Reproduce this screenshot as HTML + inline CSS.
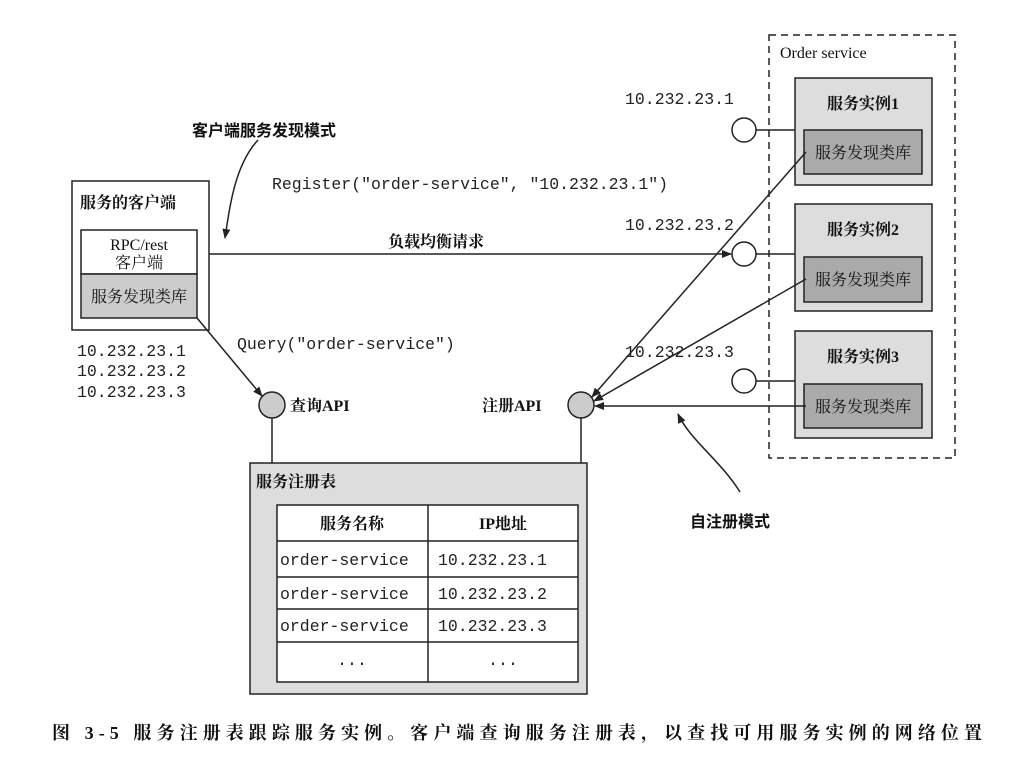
<!DOCTYPE html>
<html><head><meta charset="utf-8"><style>
html,body{margin:0;padding:0;background:#fff;}
svg{display:block;}
.m{font-family:"Liberation Mono","DejaVu Sans Mono",monospace;font-size:16.5px;fill:#222;}
.c{font-family:"Liberation Serif","Noto Serif CJK SC",serif;font-size:16px;fill:#111;}
.b{font-family:"Liberation Sans","Noto Sans CJK SC",sans-serif;font-size:16px;font-weight:bold;fill:#111;}
</style></head><body>
<svg width="1036" height="759" viewBox="0 0 1036 759" xmlns="http://www.w3.org/2000/svg">
<defs><marker id="a" markerWidth="10" markerHeight="8" refX="9" refY="4" orient="auto" markerUnits="userSpaceOnUse"><path d="M0,0 L10,4 L0,8 z" fill="#222"/></marker></defs>
<g stroke="#222" stroke-width="1.5" fill="none">
<!-- client -->
<rect x="72" y="181" width="137" height="149" fill="#fff"/>
<rect x="81" y="230" width="116" height="44" fill="#fff"/>
<rect x="81" y="274" width="116" height="44" fill="#ccc"/>
<!-- order service -->
<rect x="769" y="35" width="186" height="423" stroke-dasharray="7,5"/>
<rect x="795" y="78" width="137" height="107" fill="#ddd"/>
<rect x="804" y="130" width="118" height="44" fill="#aaa"/>
<rect x="795" y="204" width="137" height="107" fill="#ddd"/>
<rect x="804" y="257" width="118" height="45" fill="#aaa"/>
<rect x="795" y="331" width="137" height="107" fill="#ddd"/>
<rect x="804" y="384" width="118" height="44" fill="#aaa"/>
<line x1="756" y1="130" x2="795" y2="130"/>
<line x1="756" y1="254" x2="795" y2="254"/>
<line x1="756" y1="381" x2="795" y2="381"/>
<circle cx="744" cy="130" r="12" fill="#fff"/>
<circle cx="744" cy="254" r="12" fill="#fff"/>
<circle cx="744" cy="381" r="12" fill="#fff"/>
<!-- registry -->
<line x1="272" y1="418" x2="272" y2="463"/>
<line x1="581" y1="418" x2="581" y2="463"/>
<rect x="250" y="463" width="337" height="231" fill="#ddd"/>
<rect x="277" y="505" width="301" height="177" fill="#fff"/>
<line x1="428" y1="505" x2="428" y2="682"/>
<line x1="277" y1="541" x2="578" y2="541"/>
<line x1="277" y1="577" x2="578" y2="577"/>
<line x1="277" y1="609" x2="578" y2="609"/>
<line x1="277" y1="642" x2="578" y2="642"/>
<circle cx="272" cy="405" r="13" fill="#ccc"/>
<circle cx="581" cy="405" r="13" fill="#ccc"/>
<!-- arrows -->
<line x1="209" y1="254" x2="731" y2="254" marker-end="url(#a)"/>
<line x1="197" y1="318" x2="262" y2="396" marker-end="url(#a)"/>
<line x1="806" y1="152" x2="592" y2="397" marker-end="url(#a)"/>
<line x1="806" y1="279" x2="594" y2="401" marker-end="url(#a)"/>
<line x1="806" y1="406" x2="595" y2="406" marker-end="url(#a)"/>
<path d="M258,140 C235,165 230,205 225,238" marker-end="url(#a)"/>
<path d="M740,492 C720,460 690,440 678,414" marker-end="url(#a)"/>
</g>
<text class="b" x="192" y="136">客户端服务发现模式</text>
<text class="c" x="80" y="208" font-weight="bold">服务的客户端</text>
<text class="c" x="139" y="250" text-anchor="middle">RPC/rest</text>
<text class="c" x="139" y="268" text-anchor="middle">客户端</text>
<text class="c" x="139" y="302" text-anchor="middle">服务发现类库</text>
<text class="m" x="272" y="189">Register("order-service", "10.232.23.1")</text>
<text class="c" x="388" y="247" font-weight="bold">负载均衡请求</text>
<text class="m" x="237" y="349">Query("order-service")</text>
<text class="m" x="77" y="356">10.232.23.1</text>
<text class="m" x="77" y="376">10.232.23.2</text>
<text class="m" x="77" y="397">10.232.23.3</text>
<text class="c" x="290" y="411" font-weight="bold">查询API</text>
<text class="c" x="482" y="411" font-weight="bold">注册API</text>
<text class="m" x="625" y="104">10.232.23.1</text>
<text class="m" x="625" y="230">10.232.23.2</text>
<text class="m" x="625" y="357">10.232.23.3</text>
<text class="c" x="780" y="58">Order service</text>
<text class="c" x="863" y="109" text-anchor="middle" font-weight="bold">服务实例1</text>
<text class="c" x="863" y="158" text-anchor="middle">服务发现类库</text>
<text class="c" x="863" y="235" text-anchor="middle" font-weight="bold">服务实例2</text>
<text class="c" x="863" y="285" text-anchor="middle">服务发现类库</text>
<text class="c" x="863" y="362" text-anchor="middle" font-weight="bold">服务实例3</text>
<text class="c" x="863" y="412" text-anchor="middle">服务发现类库</text>
<text class="b" x="690" y="527">自注册模式</text>
<text class="c" x="256" y="487" font-weight="bold">服务注册表</text>
<text class="c" x="352" y="529" text-anchor="middle" font-weight="bold">服务名称</text>
<text class="c" x="503" y="529" text-anchor="middle" font-weight="bold">IP地址</text>
<text class="m" x="280" y="565">order-service</text>
<text class="m" x="280" y="599">order-service</text>
<text class="m" x="280" y="631">order-service</text>
<text class="m" x="352" y="665" text-anchor="middle">...</text>
<text class="m" x="438" y="565">10.232.23.1</text>
<text class="m" x="438" y="599">10.232.23.2</text>
<text class="m" x="438" y="631">10.232.23.3</text>
<text class="m" x="503" y="665" text-anchor="middle">...</text>
<text x="52" y="739" font-family="Liberation Serif,'Noto Serif CJK SC',serif" font-size="18" font-weight="bold" fill="#111" textLength="930" lengthAdjust="spacing">图 3-5  服务注册表跟踪服务实例。客户端查询服务注册表，以查找可用服务实例的网络位置</text>
</svg>
</body></html>
